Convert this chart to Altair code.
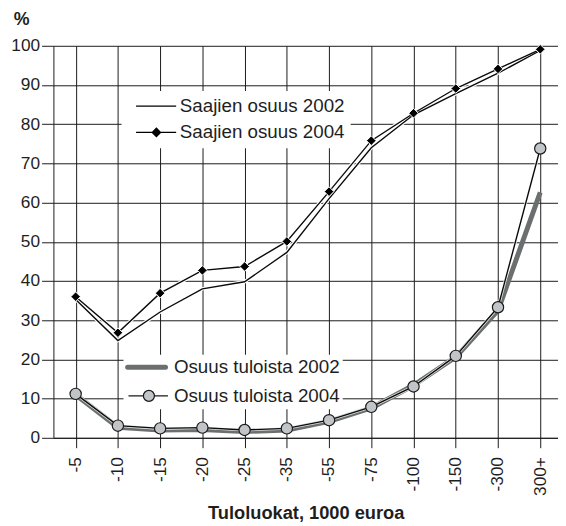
import altair as alt
import pandas as pd

# ---- data ----
categories = ["-5", "-10", "-15", "-20", "-25", "-35", "-55", "-75", "-100", "-150", "-300", "300+"]
saajien_2002 = [35.3, 24.8, 32.1, 38.0, 39.8, 47.3, 61.0, 74.0, 82.4, 87.8, 93.0, 98.8]
saajien_2004 = [36.0, 26.8, 36.9, 42.7, 43.7, 50.1, 62.8, 75.8, 82.8, 89.1, 94.1, 99.1]
osuus_2002 = [11.0, 2.7, 2.0, 2.1, 1.6, 2.0, 4.2, 7.6, 13.4, 20.6, 32.5, 62.6]
osuus_2004 = [11.2, 3.1, 2.4, 2.6, 2.0, 2.4, 4.5, 7.9, 13.1, 20.9, 33.3, 73.8]

names_saajien = ["Saajien osuus 2002", "Saajien osuus 2004"]
names_osuus = ["Osuus tuloista 2002", "Osuus tuloista 2004"]

series = {
    names_saajien[0]: saajien_2002,
    names_saajien[1]: saajien_2004,
    names_osuus[0]: osuus_2002,
    names_osuus[1]: osuus_2004,
}
rows = []
for name, vals in series.items():
    for c, v in zip(categories, vals):
        rows.append({"cat": c, "v": v, "s": name})
df = pd.DataFrame(rows)
legend_df = pd.DataFrame({"s": names_saajien + names_osuus})

FONT = "Liberation Sans"
TXT = "#1e1e1e"
GRID = "#1a1a1a"
GRAY_THICK = "#6b6f6f"
GRAY_FILL = "#c2c5c7"

x_enc = alt.X(
    "cat:O",
    sort=categories,
    scale=alt.Scale(type="point", padding=0.4735, align=0.556),
    axis=alt.Axis(
        title="Tuloluokat, 1000 euroa",
        titleFontSize=18.5, titleFontWeight="bold", titleColor=TXT, titleFont=FONT,
        titlePadding=8,
        labelAngle=270, labelFontSize=17.5, labelColor=TXT, labelFont=FONT,
        labelPadding=9, tickSize=10, tickColor=GRID, tickWidth=1,
        domainColor=GRID, domainWidth=1,
        grid=True, gridColor=GRID, gridWidth=1, gridOpacity=1,
    ),
)
y_enc = alt.Y(
    "v:Q",
    scale=alt.Scale(domain=[0, 100], nice=False),
    axis=alt.Axis(
        values=list(range(0, 101, 10)),
        title="%", titleAngle=0, titleAlign="left", titleBaseline="middle",
        titleX=-40.7, titleY=-26.6, titleFontSize=18, titleFontWeight="bold",
        titleColor=TXT, titleFont=FONT,
        labelFontSize=17.5, labelColor=TXT, labelFont=FONT, labelPadding=2,
        tickSize=12, tickColor=GRID, tickWidth=1,
        domainColor=GRID, domainWidth=1,
        grid=True, gridColor=GRID, gridWidth=1, gridOpacity=1,
    ),
)

base = alt.Chart(df).encode(x=x_enc, y=y_enc)

sa = base.transform_filter(alt.FieldOneOfPredicate(field="s", oneOf=names_saajien))
sa_halo = sa.mark_line(color="white", strokeWidth=3.5).encode(detail="s:N")
sa_line = sa.mark_line(color="#0a0a0a", strokeWidth=1.4).encode(detail="s:N")
sa_pts = base.transform_filter(alt.datum.s == names_saajien[1]).mark_point(
    shape="diamond", filled=True, fill="black", stroke="white", strokeWidth=1, size=95, opacity=1
)

os02 = base.transform_filter(alt.datum.s == names_osuus[0]).mark_line(
    color=GRAY_THICK, strokeWidth=5, strokeJoin="round"
)
os04 = base.transform_filter(alt.datum.s == names_osuus[1])
os04_halo = os04.mark_line(color="white", strokeWidth=3, opacity=0.8)
os04_line = os04.mark_line(color="#0a0a0a", strokeWidth=1.4)
os04_pts = os04.mark_point(
    shape="circle", filled=True, fill=GRAY_FILL, stroke="#1a1a1a", strokeWidth=1.2, size=130, opacity=1
)

# ---- legends (real Vega legends with custom symbol paths) ----
path_sa = [
    "M-0.16,0H7.96",
    "M-0.16,0H7.96M3.12,0L3.96,-0.84L4.8,0L3.96,0.84Z",
]
path_os = [
    "M-1.66,-0.38H6A0.38,0.38 0 0 1 6,0.38H-1.66A0.38,0.38 0 0 1 -1.66,-0.38Z",
    "M-1.5,0H1.52M3.76,0H6.5M1.52,0A1.12,1.12 0 1 0 3.76,0A1.12,1.12 0 1 0 1.52,0Z",
]

def leg(x, y, pad, row_pad, lab_off):
    return alt.Legend(
        orient="none", legendX=x, legendY=y, direction="vertical", title=None,
        fillColor="white", padding=pad, rowPadding=row_pad, labelOffset=lab_off,
        labelFontSize=19, labelFont=FONT, labelColor=TXT, labelLimit=400,
        symbolSize=100, symbolStrokeWidth=1.3, symbolOpacity=1,
    )

leg1 = leg(69, 45.7, 6, 6.5, 34)
leg_sa = alt.Chart(legend_df).transform_filter("false").mark_point(
    filled=True, fill="black", stroke="black", strokeWidth=1.3, size=100, opacity=1
).encode(
    shape=alt.Shape("s:N", scale=alt.Scale(domain=names_saajien, range=path_sa), legend=leg1)
)

leg2 = leg(71, 313, 3, 9, 29)
leg_os = alt.Chart(legend_df).transform_filter("false").mark_point(
    filled=True, strokeWidth=1.3, size=100, opacity=1
).encode(
    shape=alt.Shape("s2:N", scale=alt.Scale(domain=names_osuus, range=path_os), legend=leg2),
    fill=alt.Fill("s2:N", scale=alt.Scale(domain=names_osuus, range=[GRAY_THICK, GRAY_FILL]), legend=leg2),
    stroke=alt.Stroke("s2:N", scale=alt.Scale(domain=names_osuus, range=[GRAY_THICK, "#1a1a1a"]), legend=leg2),
).transform_calculate(s2="datum.s")

chart = alt.layer(
    sa_halo, sa_line, sa_pts, os02, os04_halo, os04_line, os04_pts, leg_sa, leg_os
).resolve_scale(
    shape="independent", fill="independent", stroke="independent"
).properties(
    width=511, height=397,
    autosize=alt.AutoSizeParams(type="none"),
    padding={"left": 46, "top": 35, "right": 0, "bottom": 83},
    background="white",
).configure_view(stroke=None)

chart.save("out.html", embed_options={"renderer": "svg", "actions": False})
